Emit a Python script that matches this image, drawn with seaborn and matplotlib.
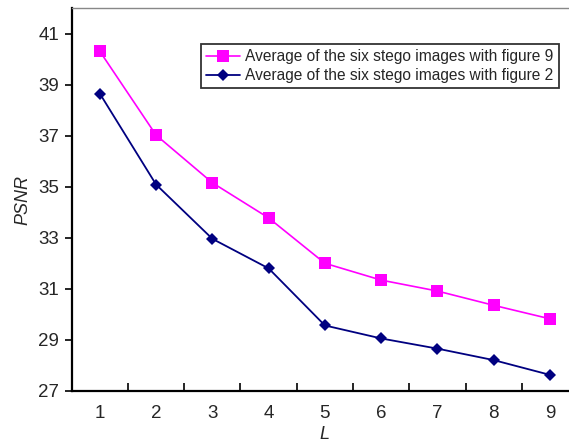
import matplotlib
matplotlib.use("Agg")
import matplotlib.pyplot as plt
import seaborn as sns

L_values = [1, 2, 3, 4, 5, 6, 7, 8, 9]
psnr_fig9 = [40.32, 37.03, 35.16, 33.78, 32.00, 31.34, 30.91, 30.35, 29.82]
psnr_fig2 = [38.66, 35.09, 32.96, 31.80, 29.56, 29.05, 28.65, 28.20, 27.62]
label_fig9 = "Average of the six stego images with figure 9"
label_fig2 = "Average of the six stego images with figure 2"
y_ticks = [27, 29, 31, 33, 35, 37, 39, 41]

sns.set_style("white")
plt.rcParams["font.family"] = ["Liberation Sans", "DejaVu Sans"]

fig = plt.figure(figsize=(5.69, 4.47), dpi=100)
ax = fig.add_axes([0.126, 0.126, 0.89, 0.855])

sns.lineplot(x=L_values, y=psnr_fig9, ax=ax, color="#FF00FF", marker="s",
             markersize=8, markeredgewidth=0, linewidth=1.2, label=label_fig9)
sns.lineplot(x=L_values, y=psnr_fig2, ax=ax, color="#000080", marker="D",
             markersize=6.5, markeredgewidth=0, linewidth=1.3, label=label_fig2)

ax.set_xlim(0.5, 9.5)
ax.set_ylim(27, 42)
ax.set_yticks(y_ticks)
ax.set_xticks(L_values)
ax.set_xticks([v + 0.5 for v in L_values], minor=True)
ax.tick_params(axis="x", which="major", length=0, labelsize=13.5, pad=10)
ax.tick_params(axis="x", which="minor", direction="in", length=6, width=1.2,
               color="black", bottom=True)
ax.tick_params(axis="y", direction="out", length=5, width=1.2, labelsize=13.5,
               color="black", left=True, pad=4)

for side in ["left", "bottom"]:
    ax.spines[side].set_color("black")
    ax.spines[side].set_linewidth(1.6)
ax.spines["top"].set_color("#888888")
ax.spines["top"].set_linewidth(1.0)
ax.spines["right"].set_visible(False)

ax.set_xlabel("L", style="italic", fontsize=13, labelpad=3)
ax.set_ylabel("PSNR", style="italic", fontsize=13, labelpad=5)

leg = ax.legend(loc="upper left", bbox_to_anchor=(0.255, 0.908), fontsize=11.2,
                frameon=True, fancybox=False, borderpad=0.35,
                handlelength=2.2, labelspacing=0.25, handletextpad=0.3,
                borderaxespad=0)
leg.get_frame().set_edgecolor("black")
leg.get_frame().set_linewidth(1.3)

fig.savefig("out.png", dpi=100)
